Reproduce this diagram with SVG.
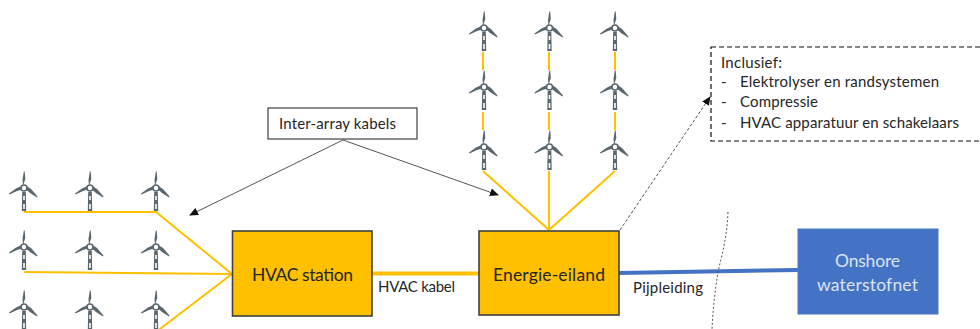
<svg xmlns="http://www.w3.org/2000/svg" xmlns:xlink="http://www.w3.org/1999/xlink" width="980" height="329" viewBox="0 0 980 329">
<style>
text{font-family:"Lato","Liberation Sans",sans-serif;fill:#262626}
.box{fill:#ffc000;stroke:#404040;stroke-width:1.6}
.l{font-size:17.5px}
.s{font-size:15px}
.c{stroke:#ffc000;stroke-width:2;fill:none}
.a{stroke:#555;stroke-width:1;fill:none}
.d{stroke:#555;stroke-width:1;fill:none;stroke-dasharray:3 2}
.t path{fill:#5a676e}
</style>
<defs>
<marker id="ah" markerUnits="userSpaceOnUse" markerWidth="10" markerHeight="10" refX="8" refY="4" orient="auto"><path d="M0 0L9 4L0 8Z" fill="#111"/></marker>
<g id="wt" class="t">
<path d="M-1.800 4H1.800L2.200 23H-2.200Z"/>
<path d="M-1 -2L1.300 -9L0.700 -16.500L-0.200 -16.500L-1.500 -8Z"/>
<path d="M-2.500 -2L-8 0.500L-15 5.500L-14.500 6.500L-7 3L-2 1.500Z"/>
<path d="M2.500 -2L7 1L13.500 8.500L13 9.500L6 5L2 1.500Z"/>
<circle r="3" fill="#fff" stroke="#5a676e" stroke-width="1.600"/>
<rect x="-0.800" y="8" width="1.600" height="4" fill="#fff"/>
<rect x="-0.800" y="16" width="1.600" height="5" fill="#fff"/>
</g>
</defs>
<g id="connectors">
<path class="c" d="M24 212H156L232 274M24 272L232 274M156 332L232 274"/>
<path class="c" d="M483 52V70M549 52V70M615 52V70M483 112V130M549 112V130M615 112V130M483 171L549 230M549 171V230M615 171L549 230"/>
<path d="M372 273.500H479" stroke="#ffc000" stroke-width="4" fill="none"/>
<path d="M619 273L798 270" stroke="#4472c4" stroke-width="4" fill="none"/>
<path class="a" d="M343 140L190 215" marker-end="url(#ah)"/>
<path class="a" d="M343 140L498 195" marker-end="url(#ah)"/>
<path class="d" d="M620 230L710 97" marker-end="url(#ah)"/>
<path d="M728 212C727 240 720 262 718 272C715 290 713 310 712 329" stroke="#555" stroke-width="1" fill="none" stroke-dasharray="2 2"/>
</g>
<g id="turbines">
<use xlink:href="#wt" x="24" y="188"/><use xlink:href="#wt" x="90" y="188"/><use xlink:href="#wt" x="156" y="188"/>
<use xlink:href="#wt" x="24" y="247"/><use xlink:href="#wt" x="90" y="247"/><use xlink:href="#wt" x="156" y="247"/>
<use xlink:href="#wt" x="24" y="307"/><use xlink:href="#wt" x="90" y="307"/><use xlink:href="#wt" x="156" y="307"/>
<use xlink:href="#wt" x="484" y="28"/><use xlink:href="#wt" x="549.500" y="28"/><use xlink:href="#wt" x="615" y="28"/>
<use xlink:href="#wt" x="484" y="87"/><use xlink:href="#wt" x="549.500" y="87"/><use xlink:href="#wt" x="615" y="87"/>
<use xlink:href="#wt" x="484" y="147"/><use xlink:href="#wt" x="549.500" y="147"/><use xlink:href="#wt" x="615" y="147"/>
</g>
<g id="hvac-station"><rect class="box" x="232.500" y="231" width="139.500" height="85"/><text class="l" x="252" y="281" textLength="101">HVAC station</text></g>
<g id="energie-eiland"><rect class="box" x="479" y="231" width="140" height="84"/><text class="l" x="493" y="281" textLength="112">Energie-eiland</text></g>
<g id="onshore"><rect x="798" y="229" width="140" height="85" fill="#4472c4" stroke="#4a76c6"/><text class="l" x="835" y="267" textLength="65" style="fill:#dae3f3">Onshore</text><text class="l" x="817" y="291" textLength="101" style="fill:#dae3f3">waterstofnet</text></g>
<g id="inter-array"><rect x="268" y="108" width="149" height="31" fill="#fff" stroke="#404040" stroke-width="1.200"/><text class="s" x="279" y="129" textLength="117">Inter-array kabels</text></g>
<g id="inclusief"><rect x="711" y="47" width="275" height="94" fill="#fff" stroke="#111" stroke-width="1.200" stroke-dasharray="5 3"/>
<text class="s" x="721" y="68" textLength="61">Inclusief:</text>
<text class="s" x="721" y="87">-</text><text class="s" x="740" y="87" textLength="199">Elektrolyser en randsystemen</text>
<text class="s" x="721" y="107">-</text><text class="s" x="740" y="107" textLength="78">Compressie</text>
<text class="s" x="721" y="128">-</text><text class="s" x="740" y="128" textLength="219">HVAC apparatuur en schakelaars</text></g>
<g id="labels"><text class="s" x="378" y="292" textLength="77">HVAC kabel</text><text class="s" x="633" y="293" textLength="70">Pijpleiding</text></g>
</svg>
